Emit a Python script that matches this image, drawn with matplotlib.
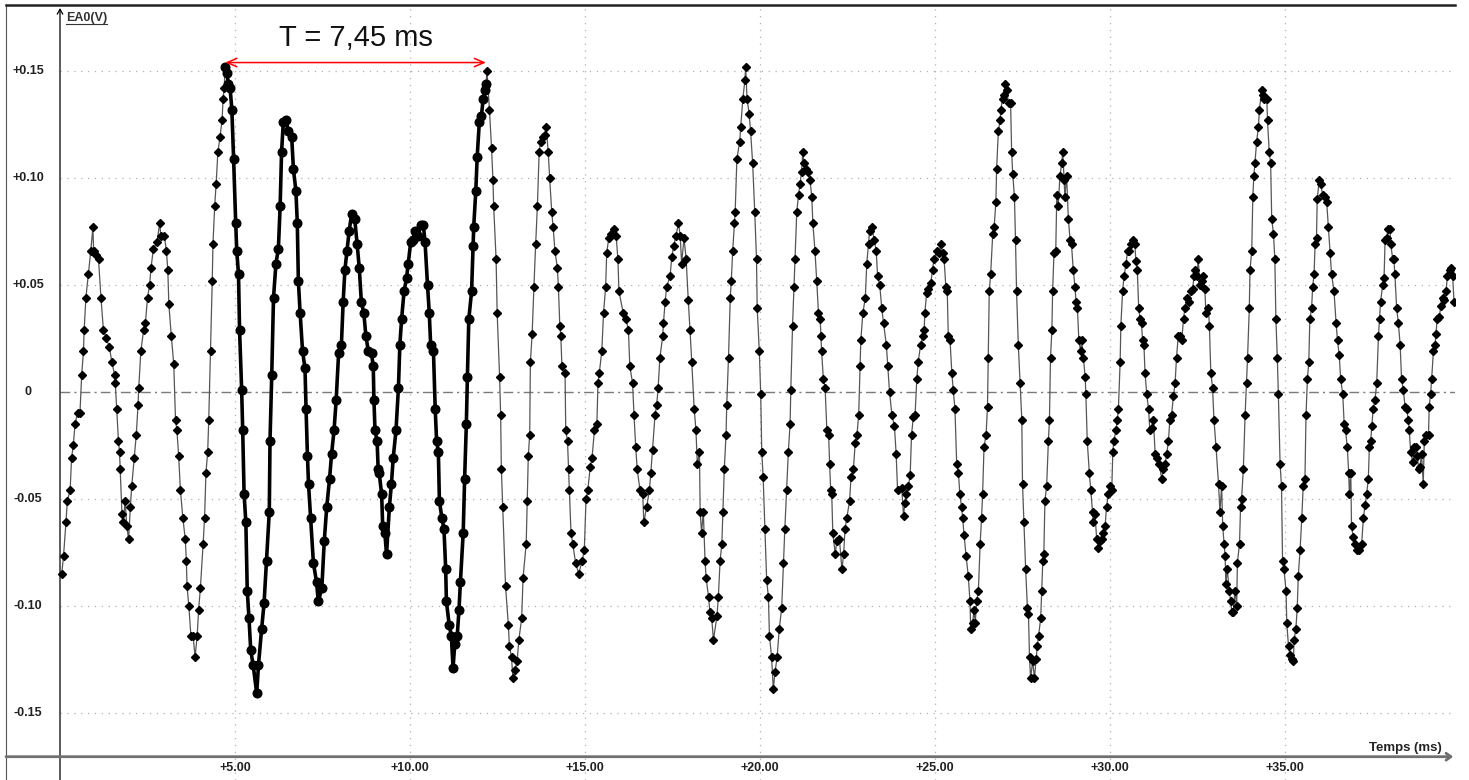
import numpy as np
import matplotlib
matplotlib.use('Agg')
import matplotlib.pyplot as plt
from matplotlib.lines import Line2D

plt.rcParams['font.family'] = ['Liberation Sans', 'DejaVu Sans']

# EA0 signal, (time ms, volts), split in 8 ms chunks
seg_0_8 = [(0.05, -.085), (0.10, -.077), (0.17, -.061), (0.21, -.051), (0.29, -.046), (0.33, -.031),
           (0.38, -.025), (0.43, -.015), (0.50, -.010), (0.57, -.010), (0.62, .008), (0.67, .019),
           (0.69, .029), (0.74, .044), (0.81, .055), (0.88, .066), (0.94, .077), (0.96, .066),
           (1.03, .064), (1.10, .062), (1.17, .044), (1.24, .029), (1.32, .025), (1.41, .021),
           (1.48, .014), (1.56, .008), (1.58, .004), (1.62, -.008), (1.67, -.023), (1.70, -.028),
           (1.72, -.036), (1.77, -.057), (1.81, -.061), (1.86, -.051), (1.91, -.063), (1.96, -.069),
           (2.01, -.054), (2.05, -.044), (2.12, -.031), (2.18, -.020), (2.23, -.006), (2.25, .002),
           (2.31, .019), (2.39, .029), (2.44, .032), (2.50, .044), (2.56, .050), (2.60, .058),
           (2.67, .067), (2.77, .070), (2.85, .079), (2.88, .073), (2.98, .073), (3.04, .066),
           (3.08, .057), (3.11, .041), (3.18, .026), (3.25, .013), (3.30, -.013), (3.34, -.018),
           (3.39, -.030), (3.44, -.046), (3.51, -.059), (3.58, -.069), (3.61, -.079), (3.63, -.091),
           (3.68, -.100), (3.74, -.114), (3.80, -.114), (3.86, -.124), (3.92, -.114), (3.96, -.102),
           (4.01, -.092), (4.09, -.071), (4.13, -.059), (4.17, -.038), (4.22, -.028), (4.25, -.013),
           (4.30, .019), (4.35, .052), (4.37, .069), (4.42, .087), (4.46, .097), (4.51, .112),
           (4.57, .119), (4.63, .127), (4.66, .137), (4.69, .142), (4.72, .152), (4.77, .149),
           (4.81, .144), (4.86, .142), (4.91, .132), (4.96, .109), (5.02, .079), (5.05, .066),
           (5.10, .055), (5.13, .029), (5.19, .001), (5.22, -.018), (5.26, -.048), (5.31, -.061),
           (5.35, -.093), (5.40, -.106), (5.45, -.121), (5.52, -.128), (5.62, -.141), (5.67, -.128),
           (5.76, -.111), (5.83, -.099), (5.90, -.079), (5.98, -.056), (6.00, -.023), (6.05, .008),
           (6.10, .044), (6.17, .060), (6.24, .067), (6.29, .087), (6.33, .112), (6.38, .126),
           (6.46, .127), (6.52, .122), (6.62, .119), (6.67, .104), (6.74, .094), (6.78, .079),
           (6.81, .052), (6.86, .037), (6.93, .019), (7.00, .011), (7.03, -.008), (7.07, -.030),
           (7.10, -.043), (7.16, -.059), (7.24, -.080), (7.33, -.089), (7.38, -.098), (7.48, -.092),
           (7.55, -.070), (7.62, -.054), (7.70, -.041), (7.76, -.029), (7.83, -.018), (7.89, -.004),
           (7.96, .018)]

seg_8_16 = [(8.04, .022), (8.09, .042), (8.14, .057), (8.20, .066), (8.26, .075), (8.33, .083),
            (8.42, .081), (8.49, .069), (8.55, .058), (8.61, .042), (8.68, .037), (8.74, .026),
            (8.81, .019), (8.90, .018), (8.95, .012), (8.97, -.004), (9.00, -.018), (9.06, -.023),
            (9.09, -.036), (9.12, -.038), (9.19, -.048), (9.22, -.063), (9.28, -.066), (9.33, -.076),
            (9.41, -.054), (9.47, -.043), (9.52, -.031), (9.60, -.018), (9.67, .002), (9.71, .022),
            (9.76, .034), (9.83, .047), (9.90, .053), (9.95, .060), (10.02, .070), (10.08, .071),
            (10.14, .075), (10.24, .073), (10.30, .078), (10.38, .078), (10.43, .070), (10.50, .050),
            (10.55, .037), (10.59, .022), (10.67, .019), (10.72, -.008), (10.76, -.023), (10.81, -.028),
            (10.84, -.051), (10.91, -.059), (10.97, -.064), (11.02, -.083), (11.04, -.098), (11.12, -.109),
            (11.18, -.114), (11.23, -.129), (11.28, -.118), (11.35, -.114), (11.40, -.102), (11.44, -.089),
            (11.52, -.066), (11.56, -.041), (11.61, -.015), (11.64, .007), (11.68, .034), (11.76, .047),
            (11.80, .068), (11.82, .077), (11.88, .094), (11.92, .110), (11.98, .126), (12.04, .129),
            (12.09, .137), (12.14, .141), (12.17, .144), (12.20, .150), (12.27, .132), (12.33, .114),
            (12.37, .099), (12.39, .087), (12.46, .062), (12.49, .037), (12.56, .007), (12.59, -.011),
            (12.61, -.036), (12.65, -.054), (12.73, -.091), (12.81, -.109), (12.84, -.119), (12.90, -.124),
            (12.94, -.134), (13.00, -.130), (13.06, -.126), (13.11, -.116), (13.19, -.106), (13.23, -.087),
            (13.32, -.071), (13.35, -.051), (13.38, -.030), (13.42, -.020), (13.44, .014), (13.49, .027),
            (13.54, .049), (13.59, .069), (13.64, .087), (13.69, .112), (13.73, .117), (13.80, .119),
            (13.86, .120), (13.89, .124), (13.95, .112), (13.99, .100), (14.05, .084), (14.09, .077),
            (14.14, .066), (14.21, .058), (14.24, .049), (14.28, .031), (14.31, .026), (14.34, .012),
            (14.43, .009), (14.45, -.018), (14.50, -.023), (14.53, -.036), (14.55, -.046), (14.60, -.066),
            (14.65, -.071), (14.73, -.080), (14.82, -.085), (14.92, -.079), (14.98, -.074), (15.03, -.050),
            (15.08, -.046), (15.15, -.035), (15.20, -.031), (15.27, -.018), (15.34, -.015), (15.37, .004),
            (15.41, .009), (15.48, .019), (15.53, .037), (15.59, .049), (15.62, .065), (15.68, .072),
            (15.75, .074), (15.82, .076), (15.89, .073), (15.94, .062), (15.97, .047)]

seg_16_24 = [(16.09, .037), (16.17, .034), (16.24, .029), (16.28, .012), (16.36, .004), (16.40, -.011),
             (16.45, -.026), (16.49, -.036), (16.57, -.046), (16.65, -.048), (16.68, -.061), (16.76, -.054),
             (16.84, -.046), (16.88, -.038), (16.93, -.027), (17.00, -.011), (17.05, -.006), (17.09, .002),
             (17.14, .016), (17.22, .026), (17.24, .032), (17.29, .042), (17.33, .049), (17.43, .054),
             (17.48, .063), (17.53, .068), (17.60, .073), (17.67, .079), (17.72, .073), (17.76, .060),
             (17.83, .072), (17.89, .062), (17.95, .043), (18.00, .029), (18.05, .014), (18.12, -.008),
             (18.17, -.018), (18.21, -.034), (18.27, -.028), (18.29, -.056), (18.33, -.066), (18.38, -.056),
             (18.43, -.079), (18.46, -.087), (18.53, -.096), (18.57, -.103), (18.62, -.106), (18.67, -.116),
             (18.77, -.105), (18.81, -.096), (18.86, -.079), (18.91, -.071), (18.94, -.056), (18.98, -.036),
             (19.03, -.020), (19.05, -.006), (19.10, .016), (19.15, .044), (19.18, .052), (19.22, .066),
             (19.27, .079), (19.29, .084), (19.34, .109), (19.42, .117), (19.45, .124), (19.51, .137),
             (19.57, .146), (19.59, .152), (19.63, .137), (19.69, .130), (19.73, .122), (19.79, .107),
             (19.85, .084), (19.90, .062), (19.92, .039), (19.98, .019), (20.02, -.001), (20.05, -.028),
             (20.09, -.040), (20.14, -.064), (20.19, -.088), (20.24, -.096), (20.27, -.114), (20.33, -.124),
             (20.38, -.139), (20.43, -.131), (20.49, -.124), (20.55, -.111), (20.62, -.101), (20.67, -.080),
             (20.71, -.064), (20.76, -.046), (20.81, -.028), (20.86, -.015), (20.88, .001), (20.93, .031),
             (20.97, .049), (21.00, .062), (21.05, .084), (21.10, .092), (21.14, .097), (21.19, .103),
             (21.22, .112), (21.26, .107), (21.32, .104), (21.38, .103), (21.43, .099), (21.48, .091),
             (21.51, .079), (21.57, .066), (21.62, .052), (21.67, .037), (21.72, .034), (21.74, .026),
             (21.76, .019), (21.81, .006), (21.86, .002), (21.91, -.018), (21.96, -.020), (21.99, -.034),
             (22.02, -.046), (22.05, -.048), (22.08, -.066), (22.15, -.076), (22.19, -.070), (22.27, -.069),
             (22.34, -.083), (22.39, -.076), (22.43, -.064), (22.48, -.059), (22.56, -.051), (22.60, -.040),
             (22.67, -.036), (22.72, -.024), (22.77, -.020), (22.82, -.011), (22.86, .012), (22.88, .024),
             (22.94, .037), (23.01, .044), (23.05, .060), (23.10, .069), (23.13, .075), (23.20, .077),
             (23.26, .071), (23.32, .066), (23.36, .054), (23.42, .050), (23.48, .039), (23.53, .032),
             (23.61, .022), (23.65, .012), (23.70, .000), (23.77, -.011), (23.84, -.016), (23.89, -.029),
             (23.93, -.046)]

seg_24_32 = [(24.05, -.045), (24.10, -.058), (24.14, -.052), (24.17, -.048), (24.24, -.044), (24.29, -.039),
             (24.33, -.020), (24.38, -.012), (24.43, -.011), (24.48, .006), (24.52, .014), (24.59, .022),
             (24.65, .026), (24.69, .029), (24.71, .037), (24.76, .046), (24.81, .048), (24.88, .051),
             (24.93, .057), (24.97, .062), (25.05, .066), (25.12, .065), (25.16, .069), (25.22, .065),
             (25.26, .062), (25.31, .049), (25.35, .047), (25.38, .026), (25.43, .024), (25.48, .009),
             (25.52, .001), (25.57, -.008), (25.62, -.034), (25.67, -.038), (25.71, -.048), (25.76, -.054),
             (25.79, -.059), (25.83, -.067), (25.89, -.077), (25.95, -.086), (26.00, -.098), (26.02, -.111),
             (26.08, -.108), (26.11, -.102), (26.15, -.108), (26.19, -.098), (26.24, -.093), (26.29, -.071),
             (26.33, -.059), (26.36, -.048), (26.40, -.026), (26.46, -.020), (26.50, -.007), (26.52, .016),
             (26.55, .047), (26.59, .055), (26.65, .074), (26.69, .077), (26.74, .089), (26.76, .104),
             (26.81, .122), (26.86, .127), (26.88, .132), (26.93, .137), (26.97, .139), (27.00, .144),
             (27.05, .141), (27.10, .135), (27.16, .135), (27.19, .112), (27.22, .102), (27.27, .091),
             (27.30, .071), (27.33, .047), (27.38, .022), (27.43, .004), (27.48, -.013), (27.50, -.043),
             (27.54, -.061), (27.59, -.083), (27.64, -.101), (27.67, -.104), (27.70, -.124), (27.73, -.134),
             (27.79, -.126), (27.84, -.134), (27.89, -.125), (27.92, -.119), (27.96, -.114), (28.02, -.106),
             (28.05, -.093), (28.08, -.079), (28.11, -.076), (28.14, -.051), (28.19, -.044), (28.24, -.023),
             (28.27, -.013), (28.30, .016), (28.34, .029), (28.36, .047), (28.40, .065), (28.45, .066),
             (28.48, .092), (28.52, .087), (28.57, .101), (28.62, .107), (28.65, .112), (28.69, .099),
             (28.71, .091), (28.76, .101), (28.81, .081), (28.86, .071), (28.90, .069), (28.95, .057),
             (29.00, .049), (29.03, .042), (29.07, .039), (29.11, .024), (29.16, .019), (29.19, .024),
             (29.24, .016), (29.29, .007), (29.31, -.001), (29.35, -.023), (29.41, -.038), (29.45, -.046),
             (29.50, -.056), (29.52, -.061), (29.57, -.057), (29.62, -.069), (29.67, -.073), (29.71, -.070),
             (29.76, -.069), (29.81, -.066), (29.86, -.063), (29.90, -.054), (29.95, -.048), (30.00, -.044),
             (30.05, -.046), (30.08, -.028), (30.11, -.023), (30.17, -.018), (30.21, -.013), (30.24, -.008),
             (30.29, .014), (30.31, .031), (30.36, .047), (30.40, .054), (30.46, .060), (30.50, .066),
             (30.55, .066), (30.59, .069), (30.65, .071), (30.71, .069), (30.74, .061), (30.78, .057),
             (30.82, .039), (30.86, .034), (30.90, .032), (30.93, .024), (30.97, .022), (31.00, .009),
             (31.05, -.001), (31.10, -.008), (31.14, -.018), (31.19, -.017), (31.24, -.013), (31.29, -.029),
             (31.33, -.031), (31.41, -.034), (31.48, -.041), (31.52, -.036), (31.57, -.034), (31.62, -.029),
             (31.67, -.023), (31.71, -.013), (31.76, -.011), (31.81, -.002), (31.86, .004), (31.90, .016),
             (31.95, .026)]

seg_32_40 = [(32.00, .026), (32.05, .024), (32.10, .034), (32.14, .039), (32.21, .044), (32.27, .042),
             (32.30, .047), (32.36, .048), (32.40, .054), (32.43, .057), (32.48, .054), (32.52, .062),
             (32.57, .050), (32.62, .052), (32.67, .054), (32.71, .048), (32.74, .037), (32.81, .039),
             (32.84, .031), (32.88, .009), (32.93, .002), (32.97, -.013), (33.03, -.026), (33.10, -.043),
             (33.14, -.056), (33.19, -.044), (33.22, -.063), (33.26, -.071), (33.29, -.077), (33.31, -.090),
             (33.35, -.083), (33.41, -.093), (33.45, -.098), (33.48, -.103), (33.52, -.103), (33.57, -.093),
             (33.62, -.100), (33.64, -.080), (33.70, -.071), (33.73, -.054), (33.76, -.050), (33.81, -.036),
             (33.86, -.011), (33.90, .004), (33.93, .016), (33.98, .039), (34.00, .057), (34.05, .066),
             (34.08, .091), (34.11, .101), (34.14, .107), (34.19, .117), (34.24, .124), (34.27, .132),
             (34.33, .141), (34.36, .139), (34.40, .137), (34.48, .137), (34.50, .127), (34.55, .112),
             (34.59, .107), (34.62, .081), (34.67, .074), (34.71, .062), (34.74, .034), (34.78, .016),
             (34.81, -.001), (34.86, -.034), (34.90, -.044), (34.93, -.079), (34.97, -.083), (35.03, -.093),
             (35.05, -.108), (35.10, -.119), (35.14, -.123), (35.19, -.125), (35.24, -.126), (35.26, -.116),
             (35.31, -.111), (35.35, -.101), (35.38, -.086), (35.43, -.074), (35.48, -.059), (35.52, -.044),
             (35.57, -.041), (35.60, -.011), (35.64, .006), (35.68, .014), (35.71, .034), (35.76, .039),
             (35.79, .049), (35.83, .055), (35.86, .069), (35.90, .072), (35.92, .090), (35.98, .099),
             (36.02, .097), (36.08, .092), (36.14, .091), (36.19, .089), (36.24, .077), (36.29, .065),
             (36.33, .055), (36.40, .047), (36.46, .032), (36.50, .024), (36.55, .017), (36.59, .006),
             (36.65, -.001), (36.69, -.015), (36.73, -.018), (36.78, -.026), (36.82, -.038), (36.84, -.048),
             (36.88, -.038), (36.90, -.063), (36.95, -.068), (37.00, -.071), (37.05, -.074), (37.12, -.074),
             (37.19, -.071), (37.24, -.059), (37.29, -.053), (37.33, -.048), (37.38, -.041), (37.41, -.026),
             (37.45, -.023), (37.48, -.016), (37.52, -.008), (37.57, -.004), (37.62, .004), (37.67, .026),
             (37.70, .034), (37.73, .042), (37.79, .050), (37.83, .053), (37.86, .071), (37.90, .072),
             (37.95, .076), (38.00, .076), (38.02, .069), (38.08, .062), (38.11, .062), (38.14, .055),
             (38.19, .039), (38.24, .032), (38.29, .022), (38.33, .006), (38.38, .001), (38.43, -.007),
             (38.48, -.008), (38.52, -.013), (38.55, -.018), (38.59, -.028), (38.65, -.033), (38.69, -.026),
             (38.74, -.026), (38.78, -.030), (38.82, -.036), (38.86, -.035), (38.90, -.029), (38.95, -.043),
             (38.98, -.023), (39.03, -.020), (39.10, -.020), (39.12, -.007), (39.16, -.001), (39.19, .006),
             (39.24, .019), (39.29, .022), (39.31, .027), (39.35, .034), (39.41, .035), (39.45, .040),
             (39.50, .044), (39.54, .043), (39.60, .047), (39.64, .054), (39.70, .057), (39.73, .058),
             (39.79, .054), (39.83, .042)]

y_ticks = [0.15, 0.10, 0.05, 0.0, -0.05, -0.10, -0.15]
x_ticks = [5, 10, 15, 20, 25, 30, 35]

T_START = 4.72      # first marked peak (ms)
PERIOD = 7.45       # measured period (ms)
PEAK_V = 0.154

data = np.array(seg_0_8 + seg_8_16 + seg_16_24 + seg_24_32 + seg_32_40)
t_ms, ea0 = data[:, 0], data[:, 1]
bold = (t_ms >= T_START - 0.005) & (t_ms <= T_START + PERIOD)

# screen geometry: 35 px per ms, origin at x=60 px, 0 V at y=391.8 px, 2138 px per V
W, H = 1469, 780
fig = plt.figure(figsize=(W / 100, H / 100), dpi=100)
ax = fig.add_axes([6 / W, 0, (1455 - 6) / W, (H - 5) / H])
xmin, xmax = (6 - 60) / 35.0, (1455 - 60) / 35.0
ymin, ymax = -(780 - 391.8) / 2138, (391.8 - 5) / 2138
ax.set_xlim(xmin, xmax)
ax.set_ylim(ymin, ymax)
ax.set_xticks([])
ax.set_yticks([])
for s in ['right', 'bottom']:
    ax.spines[s].set_visible(False)
ax.spines['top'].set_color('#222222')
ax.spines['top'].set_linewidth(1.8)
ax.spines['left'].set_color('#555555')
ax.spines['left'].set_linewidth(0.8)

x_axis_v = -(756.7 - 391.8) / 2138

# grid
grid_ls = (0, (1, 4.5))
for xt in x_ticks:
    ax.axvline(xt, color='#b0b0b0', lw=0.9, ls=grid_ls, zorder=1)
for yt in y_ticks:
    if yt == 0:
        ax.hlines(0, 0, xmax, color='#7a7a7a', lw=1.0, ls=(0, (7, 3, 1.5, 3)), zorder=1)
    else:
        ax.hlines(yt, 0, xmax, color='#b0b0b0', lw=0.9, ls=grid_ls, zorder=1)

# axes with arrow heads
ax.annotate('', xy=(0, 0.1795), xytext=(0, ymin), xycoords='data',
            arrowprops=dict(arrowstyle='->,head_length=0.35,head_width=0.2', lw=0.9, color='black',
                            shrinkA=0, shrinkB=0), zorder=3)
ax.annotate('', xy=(xmax - 0.05, x_axis_v), xytext=(xmin, x_axis_v),
            arrowprops=dict(arrowstyle='->,head_length=0.35,head_width=0.25', lw=2.0, color='#707070',
                            shrinkA=0, shrinkB=0), zorder=3)

# signal
ax.plot(t_ms, ea0, color='#555555', lw=0.9, marker='D', ms=4.2, mfc='black', mec='black', zorder=4)
ax.plot(t_ms[bold], ea0[bold], color='black', lw=2.6, marker='o', ms=6.2, zorder=5)

# tick labels
for yt in y_ticks:
    lab = '0' if yt == 0 else ('+%.2f' % yt if yt > 0 else '%.2f' % yt)
    ax.text((28 - 60) / 35.0, yt, lab, ha='center', va='center', fontsize=9,
            fontweight='bold', color='#222222')
for xt in x_ticks:
    ax.text(xt, -(768 - 391.8) / 2138, '+%.2f' % xt, ha='center', va='center', fontsize=9,
            fontweight='bold', color='#222222')

ylab = ax.text(6 / 35.0, (391.8 - 18) / 2138, 'EA0(V)', ha='left', va='center', fontsize=9,
               fontweight='bold', color='#333333')
ax.text((1442 - 60) / 35.0, -(751 - 391.8) / 2138, 'Temps (ms)', ha='right', va='baseline',
        fontsize=9.5, fontweight='bold', color='#222222')

# period annotation
ax.annotate('', xy=(T_START + PERIOD, PEAK_V), xytext=(T_START, PEAK_V),
            arrowprops=dict(arrowstyle='<->,head_length=0.7,head_width=0.3', lw=1.1, color='red',
                            shrinkA=0, shrinkB=0), zorder=6)
ax.text(T_START + PERIOD / 2, 0.1655, 'T = 7,45 ms', ha='center', va='center', fontsize=21,
        color='#111111')

# underline under the y label
fig.canvas.draw()
bb = ylab.get_window_extent(fig.canvas.get_renderer())
fig.add_artist(Line2D([bb.x0 / W, bb.x1 / W], [(bb.y0 + 0.5) / H, (bb.y0 + 0.5) / H],
                      transform=fig.transFigure, color='#333333', lw=0.8))

fig.savefig('out.png', dpi=100, facecolor='white')
